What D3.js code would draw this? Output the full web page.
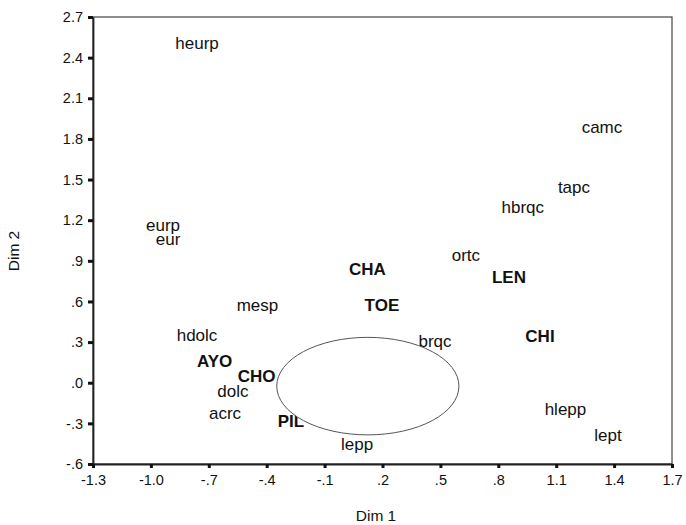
<!DOCTYPE html>
<html>
<head>
<meta charset="utf-8">
<script src="https://cdn.jsdelivr.net/npm/d3@7"></script>
<style>
  body { margin: 0; background: #fff; }
  svg { display: block; font-family: "Liberation Sans", Arial, sans-serif; }
</style>
</head>
<body>
<svg id="chart" width="686" height="525"></svg>
<script>
// category / point labels and their coordinates on the two dimensions
const labels = ['heurp', 'eurp', 'eur', 'camc', 'tapc', 'hbrqc', 'ortc', 'CHA', 'LEN', 'TOE', 'brqc', 'CHI',
  'hlepp', 'lept', 'lepp', 'mesp', 'hdolc', 'AYO', 'CHO', 'dolc', 'acrc', 'PIL'];
const dim1 = [-0.761, -0.937, -0.911, 1.337, 1.192, 0.927, 0.632, 0.122, 0.855, 0.197, 0.472, 1.016,
  1.148, 1.368, 0.068, -0.448, -0.761, -0.670, -0.452, -0.575, -0.616, -0.274];
const dim2 = [2.510, 1.164, 1.061, 1.888, 1.445, 1.298, 0.943, 0.837, 0.780, 0.574, 0.308, 0.345,
  -0.194, -0.386, -0.452, 0.576, 0.354, 0.160, 0.054, -0.063, -0.221, -0.278];
// bold = row points (upper case), the rest are column points
const bold = labels.map(l => l === l.toUpperCase());

const xTicks = [-1.3, -1.0, -0.7, -0.4, -0.1, 0.2, 0.5, 0.8, 1.1, 1.4, 1.7];
const xTickLabels = ['-1.3', '-1.0', '-.7', '-.4', '-.1', '.2', '.5', '.8', '1.1', '1.4', '1.7'];
const yTicks = [2.7, 2.4, 2.1, 1.8, 1.5, 1.2, 0.9, 0.6, 0.3, 0.0, -0.3, -0.6];
const yTickLabels = ['2.7', '2.4', '2.1', '1.8', '1.5', '1.2', '.9', '.6', '.3', '.0', '-.3', '-.6'];

// the ellipse over the centre of the map (centre and radii in dim units)
const ellipseCenter = [0.124, -0.025];
const ellipseRadii = [0.472, 0.36];

const svg = d3.select('#chart');
const plotLeft = 93, plotRight = 672, plotTop = 17, plotBottom = 464;

const x = d3.scaleLinear().domain([-1.3, 1.7]).range([plotLeft, plotRight]);
const y = d3.scaleLinear().domain([-0.6, 2.7]).range([plotBottom, plotTop]);

// frame
svg.append('rect')
  .attr('x', plotLeft).attr('y', plotTop)
  .attr('width', plotRight - plotLeft).attr('height', plotBottom - plotTop)
  .attr('fill', 'none').attr('stroke', '#444').attr('stroke-width', 1.2);

const points = labels.map((l, i) => ({ label: l, x: dim1[i], y: dim2[i], bold: bold[i] }));

svg.append('g').selectAll('text').data(points).enter().append('text')
  .attr('x', d => x(d.x))
  .attr('y', d => y(d.y))
  .attr('dy', '0.36em')
  .attr('text-anchor', 'middle')
  .style('font-size', '17px')
  .style('font-weight', d => d.bold ? 'bold' : 'normal')
  .attr('fill', '#111')
  .text(d => d.label);

svg.append('ellipse')
  .attr('cx', x(ellipseCenter[0]))
  .attr('cy', y(ellipseCenter[1]))
  .attr('rx', x(ellipseCenter[0] + ellipseRadii[0]) - x(ellipseCenter[0]))
  .attr('ry', y(ellipseCenter[1]) - y(ellipseCenter[1] + ellipseRadii[1]))
  .attr('fill', '#fff').attr('stroke', '#555').attr('stroke-width', 1);

const xAxis = d3.axisBottom(x).tickValues(xTicks)
  .tickFormat((d, i) => xTickLabels[i]).tickSize(4).tickPadding(7).tickSizeOuter(0);
const yAxis = d3.axisLeft(y).tickValues(yTicks)
  .tickFormat((d, i) => yTickLabels[i]).tickSize(5).tickPadding(5).tickSizeOuter(0);

const xg = svg.append('g').attr('transform', `translate(0,${plotBottom})`).call(xAxis);
const yg = svg.append('g').attr('transform', `translate(${plotLeft},0)`).call(yAxis);

[xg, yg].forEach(g => {
  g.select('.domain').attr('stroke', '#222').attr('stroke-width', 1.8);
  g.selectAll('.tick line').attr('stroke', '#111').attr('stroke-width', 3);
  g.selectAll('.tick text').attr('fill', '#111').style('font-size', '14.5px')
    .style('font-family', '"Liberation Sans", Arial, sans-serif');
});

svg.append('text')
  .attr('x', 376).attr('y', 516)
  .attr('dy', '0.35em').attr('text-anchor', 'middle')
  .style('font-size', '15.5px').attr('fill', '#111')
  .text('Dim 1');

svg.append('text')
  .attr('transform', `translate(14,251) rotate(-90)`)
  .attr('dy', '0.35em').attr('text-anchor', 'middle')
  .style('font-size', '15.5px').attr('fill', '#111')
  .text('Dim 2');
</script>
</body>
</html>
